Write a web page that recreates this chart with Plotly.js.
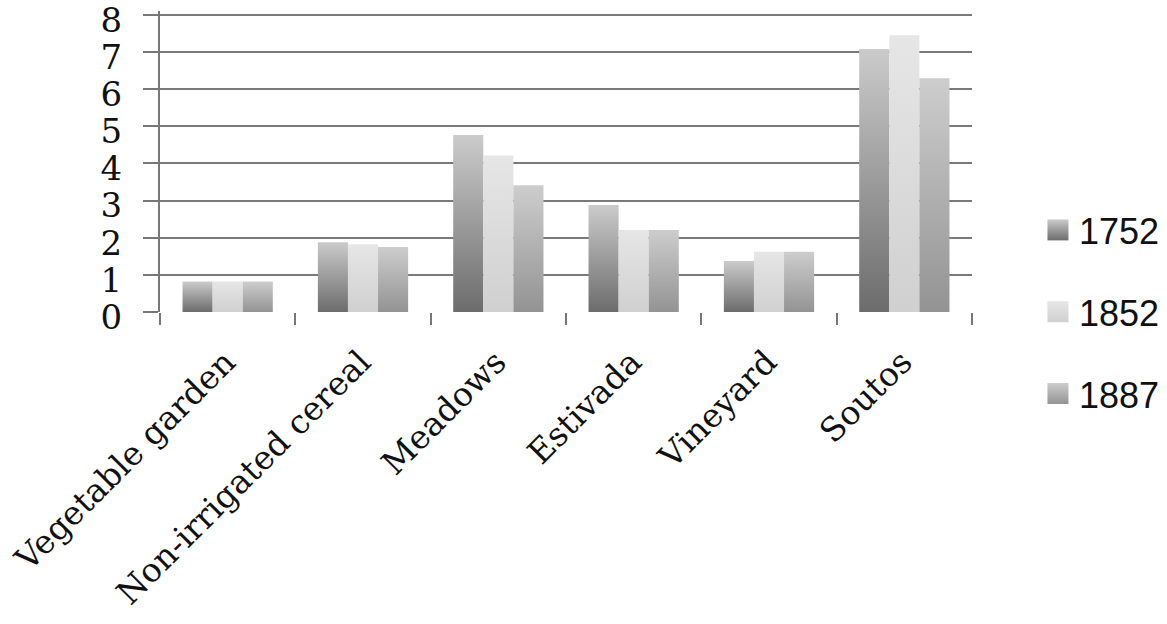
<!DOCTYPE html>
<html>
<head>
<meta charset="utf-8">
<script src="https://cdn.plot.ly/plotly-3.0.1.min.js"></script>
<style>html,body{margin:0;padding:0;background:#fff;}#chart{width:1167px;height:624px;}</style>
</head>
<body>
<div id="chart"></div>
<script>
const categories = ["Vegetable garden", "Non-irrigated cereal", "Meadows", "Estivada", "Vineyard", "Soutos"];
const series1752 = [0.82, 1.88, 4.76, 2.88, 1.37, 7.08];
const series1852 = [0.82, 1.82, 4.21, 2.21, 1.62, 7.45];
const series1887 = [0.82, 1.75, 3.41, 2.21, 1.62, 6.29];
const seriesNames = ["1752", "1852", "1887"];
const yTicks = [0, 1, 2, 3, 4, 5, 6, 7, 8];

const baseColors = ["#9a9a9a", "#dadada", "#b0b0b0"];
const gradStops = [["#cbcbcb", "#6c6c6c"], ["#e6e6e6", "#d0d0d0"], ["#cdcdcd", "#939393"]];
const allSeries = [series1752, series1852, series1887];

const traces = allSeries.map((vals, i) => ({
  type: "bar",
  name: seriesNames[i],
  x: categories,
  y: vals,
  legendgroup: seriesNames[i],
  marker: {color: baseColors[i], line: {width: 0}},
  hoverinfo: "x+y+name"
}));

const layout = {
  width: 1167, height: 624,
  margin: {l: 160, r: 195, t: 11, b: 312},
  paper_bgcolor: "#ffffff",
  plot_bgcolor: "#ffffff",
  barmode: "group",
  bargap: 0.333,
  bargroupgap: 0,
  showlegend: true,
  legend: {
    xref: "container", yref: "container",
    x: 0.880, xanchor: "left", y: 1 - 312 / 624, yanchor: "middle",
    itemwidth: 42,
    font: {family: "Liberation Sans, Arial, sans-serif", size: 36, color: "#111"},
    tracegroupgap: 32, traceorder: "grouped",
    bgcolor: "rgba(0,0,0,0)"
  },
  xaxis: {
    type: "category",
    tickangle: -45,
    tickson: "boundaries",
    ticks: "outside", ticklen: 12, tickwidth: 2, tickcolor: "#777",
    showline: false, showgrid: false,
    ticklabelshift: -2,
    ticklabelstandoff: 23,
    tickfont: {family: "DejaVu Serif, Liberation Serif, serif", size: 33, color: "#111"}
  },
  yaxis: {
    range: [0, 8.1],
    tickvals: yTicks,
    ticktext: yTicks.map(String),
    ticks: "outside", ticklen: 15, tickwidth: 2, tickcolor: "#777",
    showgrid: true, gridcolor: "#7a7a7a", gridwidth: 2,
    showline: true, linecolor: "#777", linewidth: 2,
    zeroline: false,
    ticklabeloverflow: "allow",
    ticklabelstandoff: 14,
    ticklabelshift: 5,
    tickfont: {family: "DejaVu Serif, Liberation Serif, serif", size: 34, color: "#111"}
  }
};

Plotly.newPlot("chart", traces, layout, {displayModeBar: false, staticPlot: true}).then(gd => {
  const svgNS = "http://www.w3.org/2000/svg";
  const svg = gd.querySelector("svg.main-svg");
  let defs = svg.querySelector("defs");
  if (!defs) { defs = document.createElementNS(svgNS, "defs"); svg.insertBefore(defs, svg.firstChild); }
  gradStops.forEach((st, i) => {
    const lg = document.createElementNS(svgNS, "linearGradient");
    lg.setAttribute("id", "grad" + i);
    lg.setAttribute("x1", "0"); lg.setAttribute("y1", "0");
    lg.setAttribute("x2", "0"); lg.setAttribute("y2", "1");
    [[0, st[0]], [1, st[1]]].forEach(([o, c]) => {
      const s = document.createElementNS(svgNS, "stop");
      s.setAttribute("offset", o); s.setAttribute("stop-color", c);
      lg.appendChild(s);
    });
    defs.appendChild(lg);
  });
  const barTraces = gd.querySelectorAll("g.barlayer g.trace.bars");
  barTraces.forEach((t, i) => {
    t.querySelectorAll("path").forEach(p => { p.style.fill = "url(#grad" + i + ")"; });
  });
  const legendItems = gd.querySelectorAll("g.legend g.traces");
  legendItems.forEach((it, i) => {
    it.querySelectorAll("g.legendpoints path").forEach(p => {
      p.style.fill = "url(#grad" + i + ")";
      p.style.stroke = "none";
      p.setAttribute("d", "M15.5,10.5H-5.5V-10.5H15.5Z");
    });
  });
});
</script>
</body>
</html>
